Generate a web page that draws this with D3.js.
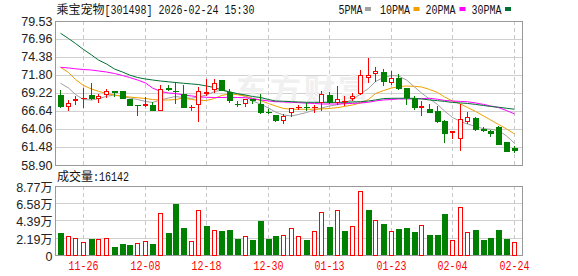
<!DOCTYPE html>
<html><head><meta charset="utf-8">
<script src="https://cdn.jsdelivr.net/npm/d3@7/dist/d3.min.js"></script>
<style>
html,body{margin:0;padding:0;background:#fff;}
svg{display:block;}
</style></head>
<body>
<svg id="chart" width="578" height="276"></svg>
<script>
// ---------------- DATA ----------------
const dates = ["11-21","11-24","11-25","11-26","11-27","11-28","12-01","12-02","12-03","12-04",
"12-05","12-08","12-09","12-10","12-11","12-12","12-15","12-16","12-17","12-18",
"12-19","12-22","12-23","12-24","12-25","12-26","12-29","12-30","12-31","01-05",
"01-06","01-07","01-08","01-09","01-12","01-13","01-14","01-15","01-16","01-19",
"01-20","01-21","01-22","01-23","01-26","01-27","01-28","01-29","01-30","02-02",
"02-03","02-04","02-05","02-06","02-09","02-10","02-11","02-12","02-13","02-24"];
const openP = [68.93,67.26,68.02,68.36,68.88,68.40,68.88,69.45,69.50,68.31,67.50,67.35,67.50,66.68,69.98,69.50,69.07,67.02,67.54,69.02,69.65,71.08,69.40,67.69,67.59,68.31,67.64,66.49,66.02,65.16,66.30,67.11,67.16,67.02,67.83,68.88,67.83,67.88,68.31,69.07,71.32,71.89,72.18,70.70,71.32,69.88,68.45,67.02,66.92,66.68,65.20,63.44,62.58,65.01,65.63,64.11,63.82,64.30,62.20,61.38];
const highP = [69.65,68.21,68.79,69.88,70.60,69.07,69.79,69.50,69.50,68.36,67.50,68.59,67.88,70.31,70.36,70.74,70.31,67.45,70.12,71.17,71.17,71.08,69.74,68.07,68.40,68.40,69.07,66.88,66.11,66.21,67.11,67.50,67.73,67.50,69.55,69.40,70.22,68.79,69.17,72.51,74.28,72.99,72.65,72.41,71.94,69.88,68.79,68.12,67.64,67.40,65.35,63.72,67.64,66.45,65.73,64.39,63.92,64.49,62.25,61.62];
const lowP = [67.11,66.68,67.50,67.02,68.21,67.83,68.45,68.59,68.31,67.30,65.97,67.16,66.59,66.68,69.55,67.59,67.07,66.64,65.11,68.79,69.17,69.45,67.73,67.26,67.26,67.64,66.16,66.16,65.11,64.73,65.73,66.78,66.68,66.30,66.68,67.64,67.45,67.35,68.07,68.93,70.60,70.84,70.22,70.36,69.65,67.50,66.78,65.92,66.40,64.97,62.00,62.67,60.90,64.73,63.82,63.67,62.96,61.72,60.76,60.66];
const closeP = [67.16,67.73,68.36,68.45,68.36,68.74,69.45,69.26,68.36,67.35,67.40,67.64,66.68,69.74,69.65,69.31,67.11,67.15,69.50,69.40,70.60,69.50,68.07,67.59,68.31,68.02,66.40,66.35,65.16,65.87,67.02,67.21,67.02,67.26,69.02,67.73,68.40,68.07,68.83,71.80,71.75,72.37,70.84,71.36,69.79,68.45,67.11,67.35,66.40,65.11,63.34,63.72,65.49,65.73,63.96,63.82,63.34,61.77,60.81,60.95];
// volume in 万 (10k shares)
const volume = [2.81,2.38,2.13,1.66,2.04,2.04,2.13,1.02,1.40,1.28,1.49,1.79,1.40,5.36,2.81,6.51,3.45,1.79,5.74,3.70,3.19,3.10,3.23,2.08,2.38,1.96,4.26,2.08,2.43,2.51,3.40,2.38,1.91,3.06,5.49,3.57,5.70,3.06,3.66,8.13,5.74,4.47,3.96,3.06,3.32,3.45,2.94,3.79,2.55,2.55,5.23,1.91,6.09,2.90,3.19,1.96,2.17,3.19,2.04,1.61];
// 1 = volume bar drawn red (up day), 0 = green
const volUp = [0,1,1,1,0,1,1,0,0,0, 1,1,0,1,0,0,0,1,1,0, 1,0,0,0,1,0,0,0,0,1, 1,1,0,1,1,0,1,0,1,1, 0,1,0,1,0,0,0,1,0,0, 0,1,1,1,0,0,0,0,0,1];
const ma5 = [70.61,69.93,69.00,68.28,68.21,68.40,68.74,68.93,68.71,68.50,68.28,68.01,67.86,68.21,68.50,68.71,68.57,68.46,68.64,68.93,69.43,69.60,69.43,69.07,68.71,68.08,67.64,67.07,66.49,66.06,65.92,66.14,66.42,66.78,67.07,67.35,67.54,67.79,68.28,69.07,69.86,70.86,71.44,71.72,71.65,71.08,70.08,69.22,68.36,67.58,66.64,65.71,65.13,64.78,64.42,64.10,64.02,63.84,63.06,62.02];
const ma10 = [72.90,72.15,71.15,70.29,69.79,69.46,69.14,68.93,68.74,68.64,68.53,68.43,68.28,68.21,68.21,68.28,68.50,68.28,68.17,68.14,68.43,68.86,69.07,68.97,68.79,68.43,68.14,67.71,67.36,67.00,66.89,66.89,66.89,66.89,66.93,67.00,67.12,67.29,67.50,67.79,68.28,69.14,69.57,69.93,70.12,70.22,70.17,70.08,69.72,69.29,68.64,68.07,67.64,67.14,66.57,65.93,65.36,64.71,64.07,63.35];
const ma20 = [72.90,72.80,72.68,72.58,72.51,72.37,72.22,72.01,71.72,71.44,71.08,70.65,69.93,69.43,69.22,69.14,68.93,68.79,68.67,68.60,68.57,68.57,68.60,68.57,68.54,68.43,68.22,68.08,67.98,67.93,67.89,67.83,67.76,67.72,67.64,67.64,67.64,67.68,67.72,67.79,67.89,68.07,68.22,68.28,68.36,68.36,68.36,68.41,68.46,68.32,68.15,68.07,68.01,67.96,67.79,67.58,67.36,67.12,66.71,66.22];
const ma30 = [77.77,77.02,76.31,75.45,74.66,73.94,73.37,72.65,72.22,71.79,71.44,71.22,71.08,70.93,70.82,70.72,70.61,70.51,70.43,70.22,70.00,69.65,69.36,69.12,68.93,68.71,68.57,68.28,68.07,68.03,67.97,67.93,67.88,67.88,67.88,67.88,67.88,67.88,67.93,67.97,68.07,68.22,68.41,68.46,68.46,68.46,68.46,68.36,68.22,68.12,68.01,67.86,67.79,67.72,67.58,67.43,67.29,67.18,67.03,66.89];
const priceTicks = [58.90,61.48,64.06,66.64,69.22,71.80,74.38,76.96,79.53];
const volTicks = [0,2.19,4.39,6.58,8.77];
const volTickLabels = ["0","2.19万","4.39万","6.58万","8.77万"];
const xTickLabels = ["11-26","12-08","12-18","12-30","01-13","01-23","02-04","02-24"];
const titleCN = "乘宝宠物";
const titleRest = "[301498] 2026-02-24 15:30";
const maNames = ["5PMA","10PMA","20PMA","30PMA"];
const volLabelCN = "成交量";
const volLabelNum = ":16142";
const watermark = "东方财富";

// ---------------- LAYOUT ----------------
const L = 55, R = 522, pTop = 21, pBot = 165, vTop = 186, vBot = 255;
const RED = "#ff0000", GREEN = "#008000";
const maColors = ["#a0a0a0","#f0a000","#ff00ff","#007033"];
const MONO = "'Liberation Mono','DejaVu Sans Mono',monospace";
const SANS = "'Liberation Sans',Arial,sans-serif";
const CJK = "'Noto Sans CJK SC',sans-serif";

const svg = d3.select("#chart");
const idx = d3.range(dates.length);
const x = d3.scaleBand().domain(idx).range([56.2, 517.4]);
const cx = i => Math.round(x(i) + x.bandwidth()/2) + 0.5;
const y = d3.scaleLinear().domain([58.90, 79.53]).range([pBot, pTop]);
const yv = d3.scaleLinear().domain([0, 8.77]).range([vBot, vTop]);
const py = v => Math.round(v);

// grid: price horizontal
svg.append("g").selectAll("line").data(priceTicks).join("line")
  .attr("x1", L).attr("x2", R)
  .attr("y1", d => py(y(d)) + 0.5).attr("y2", d => py(y(d)) + 0.5)
  .attr("stroke", "#d0d0d0").attr("stroke-width", 1);
svg.append("g").selectAll("line").data(volTicks).join("line")
  .attr("x1", L).attr("x2", R)
  .attr("y1", d => py(yv(d)) + 0.5).attr("y2", d => py(yv(d)) + 0.5)
  .attr("stroke", "#d0d0d0").attr("stroke-width", 1);

// vertical dashed grid at tick dates
const tickIdx = xTickLabels.map(t => dates.indexOf(t));
[[pTop, pBot], [vTop, vBot]].forEach(([t, b]) => {
  svg.append("g").selectAll("line").data(tickIdx).join("line")
    .attr("x1", d => cx(d)).attr("x2", d => cx(d))
    .attr("y1", t).attr("y2", b)
    .attr("stroke", "#c8c8c8").attr("stroke-dasharray", "4,3");
});

// watermark
svg.append("text").text(watermark)
  .attr("x", 236).attr("y", 101)
  .attr("font-family", CJK).attr("font-size", 31).attr("font-weight", 700)
  .attr("letter-spacing", 3)
  .attr("fill", "#f0f0f0");

// frames
[[pTop, pBot], [vTop, vBot]].forEach(([t, b]) => {
  svg.append("rect").attr("x", L + 0.5).attr("y", t + 0.5)
    .attr("width", R - L).attr("height", b - t)
    .attr("fill", "none").attr("stroke", "#999");
});

// MA lines
[ma5, ma10, ma20, ma30].forEach((arr, k) => {
  const line = d3.line().x((d, i) => cx(i)).y(d => y(d));
  svg.append("path").attr("d", line(arr))
    .attr("fill", "none").attr("stroke", maColors[k]).attr("stroke-width", 1);
});

// candles
const cg = svg.append("g").attr("shape-rendering", "crispEdges");
idx.forEach(i => {
  const o = openP[i], c = closeP[i], h = highP[i], l = lowP[i];
  const up = c >= o;
  const xc = cx(i);
  const yTop = py(y(Math.max(o, c))), yB = py(y(Math.min(o, c)));
  const yH = py(y(h)), yL = py(y(l));
  if (up) {
    const bh = Math.max(yB - yTop, 1);
    cg.append("line").attr("x1", xc).attr("x2", xc).attr("y1", yH).attr("y2", yTop).attr("stroke", RED);
    cg.append("line").attr("x1", xc).attr("x2", xc).attr("y1", yTop + bh).attr("y2", yL).attr("stroke", RED);
    if (bh <= 1) {
      cg.append("line").attr("x1", xc - 3).attr("x2", xc + 3).attr("y1", yTop + 0.5).attr("y2", yTop + 0.5).attr("stroke", RED);
    } else {
      cg.append("rect").attr("x", xc - 2).attr("y", yTop + 0.5).attr("width", 4).attr("height", bh - 1)
        .attr("fill", "#fff").attr("stroke", RED);
    }
  } else {
    cg.append("line").attr("x1", xc).attr("x2", xc).attr("y1", yH).attr("y2", yL).attr("stroke", GREEN);
    const bh = Math.max(yB - yTop, 1);
    cg.append("rect").attr("x", xc - 3).attr("y", yTop).attr("width", 6).attr("height", bh)
      .attr("fill", GREEN);
  }
});

// volume bars
const vg = svg.append("g").attr("shape-rendering", "crispEdges");
idx.forEach(i => {
  const xc = cx(i);
  const top = py(yv(volume[i]));
  if (volUp[i]) {
    vg.append("rect").attr("x", xc - 2).attr("y", top + 0.5).attr("width", 4).attr("height", vBot - top - 0.5)
      .attr("fill", "#fff").attr("stroke", RED);
  } else {
    vg.append("rect").attr("x", xc - 3).attr("y", top).attr("width", 6).attr("height", vBot - top)
      .attr("fill", GREEN);
  }
});

// y labels price
svg.append("g").selectAll("text").data(priceTicks).join("text")
  .attr("x", 52.5).attr("y", d => y(d)).attr("dy", "0.36em")
  .attr("text-anchor", "end").attr("font-family", SANS).attr("font-size", 12.5)
  .attr("fill", "#222").text(d => d.toFixed(2));
// y labels volume
const vl = svg.append("g").selectAll("text").data(volTicks).join("text")
  .attr("x", 52.5).attr("y", d => yv(d)).attr("dy", "0.36em")
  .attr("text-anchor", "end").attr("fill", "#222");
vl.each(function(d, k) {
  const lab = volTickLabels[k];
  const t = d3.select(this);
  if (lab.endsWith("万")) {
    t.append("tspan").attr("font-family", SANS).attr("font-size", 12.5).text(lab.slice(0, -1));
    t.append("tspan").attr("font-family", CJK).attr("font-size", 12).text("万");
  } else {
    t.append("tspan").attr("font-family", SANS).attr("font-size", 12.5).text(lab);
  }
});

// x labels
svg.append("g").selectAll("text").data(xTickLabels).join("text")
  .attr("x", d => cx(dates.indexOf(d))).attr("y", 270)
  .attr("text-anchor", "middle").attr("font-family", MONO).attr("font-size", 12)
  .attr("textLength", 30).attr("lengthAdjust", "spacingAndGlyphs")
  .attr("fill", RED).text(d => d);

// title
const tt = svg.append("text").attr("x", 56.5).attr("y", 14).attr("fill", "#111");
tt.append("tspan").attr("font-family", CJK).attr("font-size", 12).text(titleCN);
tt.append("tspan").attr("font-family", MONO).attr("font-size", 12)
  .attr("textLength", titleRest.length * 6).attr("lengthAdjust", "spacingAndGlyphs").text(titleRest);

// legend
const legX = [338.5, 380, 425.5, 471.5];
const sqX = [365, 413.5, 459.5, 505];
maNames.forEach((n, k) => {
  svg.append("text").attr("x", legX[k]).attr("y", 13.5)
    .attr("font-family", MONO).attr("font-size", 12)
    .attr("textLength", n.length * 6).attr("lengthAdjust", "spacingAndGlyphs")
    .attr("fill", "#111").text(n);
  svg.append("rect").attr("x", sqX[k]).attr("y", 7).attr("width", 6).attr("height", 4)
    .attr("fill", maColors[k]);
});

// volume label
const vt = svg.append("text").attr("x", 57).attr("y", 181).attr("fill", "#111");
vt.append("tspan").attr("font-family", CJK).attr("font-size", 12).text(volLabelCN);
vt.append("tspan").attr("font-family", MONO).attr("font-size", 12)
  .attr("textLength", volLabelNum.length * 6).attr("lengthAdjust", "spacingAndGlyphs").text(volLabelNum);
</script>
</body></html>
